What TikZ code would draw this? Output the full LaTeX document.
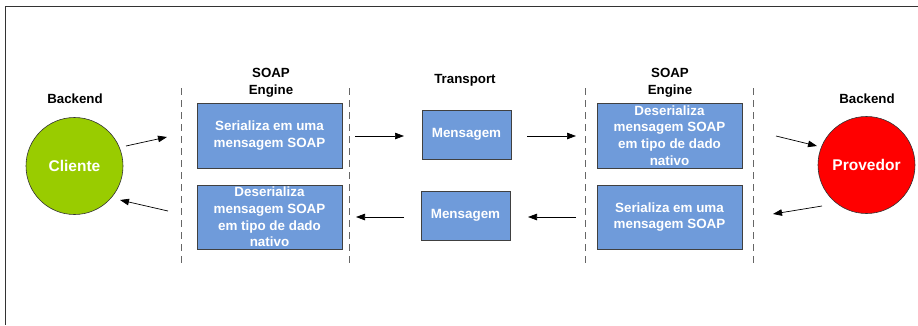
\documentclass[tikz,border=0pt]{standalone}
\usepackage{fontspec}
\setmainfont{Liberation Sans}
\usetikzlibrary{arrows.meta}
\begin{document}
\begin{tikzpicture}[x=1pt,y=-1pt,
  lbl/.style={font=\bfseries\fontsize{13.3}{16.7}\selectfont, align=center, inner sep=0pt},
  box/.style={draw=black!75, fill=boxblue, line width=0.6pt, text=white, font=\bfseries\fontsize{13.4}{16.7}\selectfont, align=center, inner sep=0pt},
  circ/.style={circle, draw=black!80, line width=0.6pt, text=white, font=\bfseries\fontsize{15.5}{18}\selectfont, minimum size=97pt, inner sep=0pt},
  sep/.style={draw=black!60, line width=0.8pt, dash pattern=on 7pt off 5pt},
  arr/.style={-{Triangle[length=9pt,width=6.5pt]}, line width=0.7pt},
  frm/.style={draw=black!80, line width=0.8pt}]
\definecolor{boxblue}{HTML}{6F9BDA}
\definecolor{cgreen}{HTML}{99CC00}
\definecolor{cred}{HTML}{FF0000}
\useasboundingbox (0,0) rectangle (918,325);
% frame
\coordinate (f1) at (918,6);
\coordinate (f0) at (5,6);
\coordinate (f2) at (5,325);
\draw[frm] (f1) -- (f0) -- (f2);
% separators
\coordinate (s1a) at (181,88); \coordinate (s1b) at (181,266);
\coordinate (s2a) at (349,88); \coordinate (s2b) at (349,266);
\coordinate (s3a) at (585,88); \coordinate (s3b) at (585,266);
\coordinate (s4a) at (753,88); \coordinate (s4b) at (753,266);
\draw[sep] (s1a) -- (s1b);
\draw[sep] (s2a) -- (s2b);
\draw[sep] (s3a) -- (s3b);
\draw[sep] (s4a) -- (s4b);
% labels
\node[lbl] (bl) at (75,99) {Backend};
\node[lbl] (br) at (867,99) {Backend};
\node[lbl] (se1) at (271,83) {SOAP\\Engine};
\node[lbl] (se2) at (670,83) {SOAP\\Engine};
\node[lbl] (tr) at (465,80) {Transport};
% circles
\node[circ, fill=cgreen] (cli) at (74.5,166) {Cliente};
\node[circ, fill=cred] (prov) at (866.5,165) {Provedor};
% boxes
\node[box, minimum width=145pt, minimum height=65pt] (b1) at (269.5,135.5) {Serializa em uma\\mensagem SOAP};
\node[box, minimum width=145pt, minimum height=64pt] (b2) at (269.5,217) {Deserializa\\mensagem SOAP\\em tipo de dado\\nativo};
\node[box, minimum width=89pt, minimum height=49pt] (m1) at (466.5,134.5) {Mensagem};
\node[box, minimum width=89pt, minimum height=49pt] (m2) at (465.5,215.5) {Mensagem};
\node[box, minimum width=145pt, minimum height=65pt] (b3) at (669.5,135.5) {Deserializa\\mensagem SOAP\\em tipo de dado\\nativo};
\node[box, minimum width=145pt, minimum height=64pt] (b4) at (669.5,217) {Serializa em uma\\mensagem SOAP};
% arrows
\coordinate (a1s) at (126,146); \coordinate (a1e) at (167,137);
\coordinate (a2s) at (168,211); \coordinate (a2e) at (120,200);
\coordinate (a3s) at (355,136); \coordinate (a3e) at (404,136);
\coordinate (a4s) at (527,136); \coordinate (a4e) at (576,136);
\coordinate (a5s) at (404,217); \coordinate (a5e) at (356,217);
\coordinate (a6s) at (576,217); \coordinate (a6e) at (528,217);
\coordinate (a7s) at (776,136); \coordinate (a7e) at (817,146);
\coordinate (a8s) at (822,206); \coordinate (a8e) at (773,214);
\draw[arr] (a1s) -- (a1e);
\draw[arr] (a2s) -- (a2e);
\draw[arr] (a3s) -- (a3e);
\draw[arr] (a4s) -- (a4e);
\draw[arr] (a5s) -- (a5e);
\draw[arr] (a6s) -- (a6e);
\draw[arr] (a7s) -- (a7e);
\draw[arr] (a8s) -- (a8e);
\end{tikzpicture}
\end{document}
